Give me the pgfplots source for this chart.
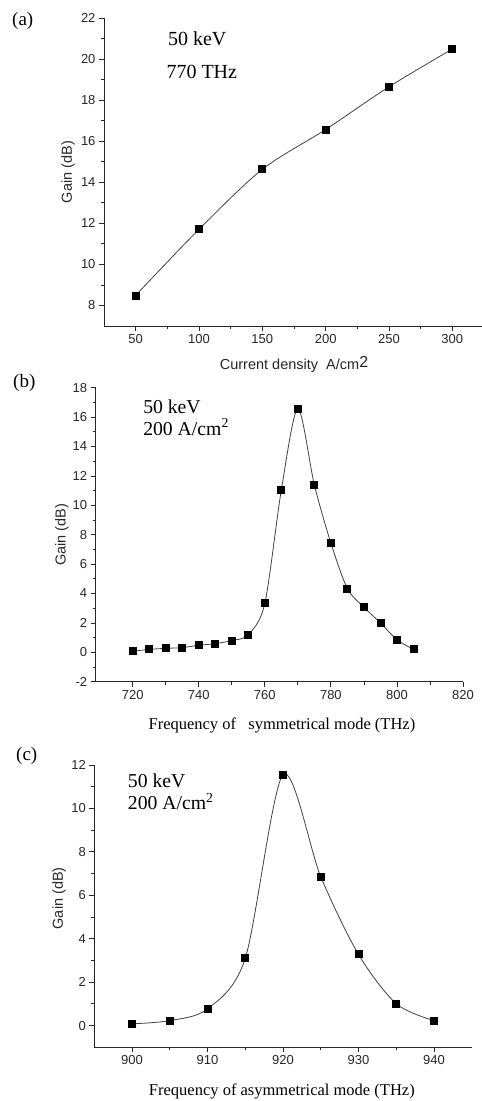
\documentclass[border=0pt]{standalone}
\usepackage{fontspec}
\setmainfont{Liberation Sans}
\newfontfamily\tnr{Liberation Serif}
\usepackage{pgfplots}
\pgfplotsset{compat=1.18}
\pgfplotsset{
 mystyle/.style={
  scale only axis,
  axis lines*=left,
  tick align=outside,
  major tick length=5pt,
  minor tick length=3pt,
  minor tick num=1,
  axis line style={line width=0.8pt, black!85},
  every tick/.style={line width=0.8pt, black!85},
  tick label style={font=\fontsize{13}{14}\selectfont, text=black!85},
  /pgf/number format/assume math mode=true,
  /pgf/number format/1000 sep={},
  label style={font=\fontsize{14.5}{16}\selectfont, text=black!85},
  clip=false,
 },
 myplot/.style={smooth, tension=0.5, line width=0.8pt, black!75, mark=square*, mark size=3.5pt, mark options={black, solid, fill=black}},
}
\begin{document}
\begin{tikzpicture}[x=1pt,y=1pt]
\path[use as bounding box] (0,0) rectangle (482,-1101);
% panel labels
\node[anchor=base west, inner sep=0, font=\tnr\fontsize{19}{21}\selectfont] at (12,-25) {(a)};
\node[anchor=base west, inner sep=0, font=\tnr\fontsize{19}{21}\selectfont] at (13,-387) {(b)};
\node[anchor=base west, inner sep=0, font=\tnr\fontsize{19}{21}\selectfont] at (16,-760) {(c)};

% (a)
\begin{axis}[mystyle, at={(104pt,-326pt)}, anchor=south west,
  width=380pt, height=308pt,
  xmin=25, xmax=325, ymin=7, ymax=22,
  xtick={50,100,...,300}, ytick={8,10,...,22},
  xlabel={Current density\ \ A/cm\raisebox{1.5pt}{\fontsize{16}{16}\selectfont 2}},
  ylabel={Gain (dB)},
  xlabel style={at={(axis description cs:0.5,-0.1412)}, anchor=base},
  ylabel style={at={(axis description cs:-0.0947,0.5)}, anchor=center},
]
\addplot[myplot] coordinates {(50,8.49) (100,11.71) (150,14.63) (200,16.57) (250,18.65) (300,20.49)};
\node[anchor=base west, inner sep=0, font=\tnr\fontsize{20}{22}\selectfont] at (rel axis cs:0.168,0.910) {50 keV};
\node[anchor=base west, inner sep=0, font=\tnr\fontsize{20}{22}\selectfont] at (rel axis cs:0.164,0.802) {770 THz};
\end{axis}

% (b)
\begin{axis}[mystyle, at={(95.7pt,-681.7pt)}, anchor=south west,
  width=367.3pt, height=294pt,
  xmin=708.8, xmax=820, ymin=-2, ymax=18,
  xtick={720,740,...,820}, ytick={-2,0,...,18},
  xlabel={\tnr\fontsize{16.5}{18}\selectfont Frequency of\ \ \ symmetrical mode (THz)},
  ylabel={Gain (dB)},
  xlabel style={at={(axis description cs:0.507,-0.1609)}, anchor=base, text=black},
  ylabel style={at={(axis description cs:-0.0918,0.5)}, anchor=center},
]
\addplot[myplot] coordinates {(720,0.07) (725,0.2) (730,0.27) (735,0.32) (740,0.48) (745,0.59) (750,0.8) (755,1.2) (760,3.33) (765,11.04) (770,16.56) (775,11.39) (780,7.43) (785,4.34) (790,3.07) (795,2.0) (800,0.86) (805,0.2)};
\node[anchor=base west, inner sep=0, font=\tnr\fontsize{19.7}{22}\selectfont] at (rel axis cs:0.129,0.913) {50 keV};
\node[anchor=base west, inner sep=0, font=\tnr\fontsize{19.7}{22}\selectfont] at (rel axis cs:0.129,0.839) {200 A/cm\textsuperscript{2}};
\end{axis}

% (c)
\begin{axis}[mystyle, at={(94.3pt,-1047.3pt)}, anchor=south west,
  width=377.4pt, height=282.3pt,
  xmin=895, xmax=945, ymin=-1, ymax=12,
  xtick={900,910,...,940}, ytick={0,2,...,12},
  xlabel={\tnr\fontsize{16.5}{18}\selectfont Frequency of asymmetrical mode (THz)},
  ylabel={Gain (dB)},
  xlabel style={at={(axis description cs:0.497,-0.169)}, anchor=base, text=black},
  ylabel style={at={(axis description cs:-0.0935,0.528)}, anchor=center},
]
\addplot[myplot] coordinates {(900,0.08) (905,0.23) (910,0.77) (915,3.1) (920,11.55) (925,6.86) (930,3.28) (935,1.01) (940,0.23)};
\node[anchor=base west, inner sep=0, font=\tnr\fontsize{19.7}{22}\selectfont] at (rel axis cs:0.0885,0.921) {50 keV};
\node[anchor=base west, inner sep=0, font=\tnr\fontsize{19.7}{22}\selectfont] at (rel axis cs:0.0885,0.841) {200 A/cm\textsuperscript{2}};
\end{axis}
\end{tikzpicture}
\end{document}
